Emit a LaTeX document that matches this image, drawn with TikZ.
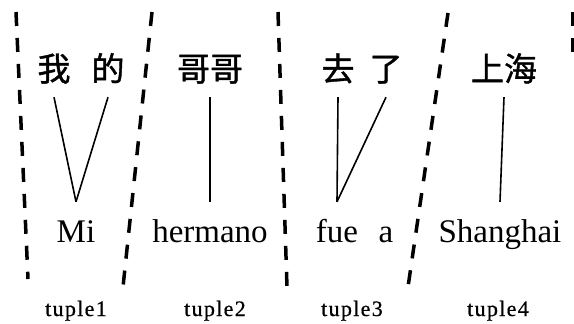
\documentclass[tikz,border=0pt]{standalone}
\usepackage{fontspec}
\setmainfont{Liberation Serif}
\newfontfamily\cjk{Noto Sans CJK SC}[FakeBold=1.2]
\usepackage{tikz}
\begin{document}
\begin{tikzpicture}[
x=1pt,y=-1pt,
zh/.style={font=\cjk\fontsize{33}{33}\selectfont,anchor=base,inner xsep=0pt,inner ysep=16pt,text depth=0pt},
es/.style={font=\fontsize{33}{33}\selectfont,anchor=base,inner xsep=0pt,inner ysep=16pt,text height=24pt},
tag/.style={font=\fontsize{22}{22}\selectfont\addfontfeatures{LetterSpace=6,FakeBold=0.6},anchor=base},
sep/.style={line width=3.5pt,dash pattern=on 14pt off 12pt},
link/.style={line width=1.6pt}
]
\useasboundingbox (0,0) rectangle (574,324);
% source words
\node[zh] (wo) at (54,81) {我};
\node[zh] (de) at (108,81) {的};
\node[zh] (gege) at (210,81) {哥哥};
\node[zh] (qu) at (338,81) {去};
\node[zh] (le) at (386,81) {了};
\node[zh] (shzh) at (504,81) {上海};
% target words
\node[es] (mi) at (76,242) {Mi};
\node[es] (hermano) at (210,242) {hermano};
\node[es] (fue) at (337,242) {fue};
\node[es] (a) at (386,242) {a};
\node[es] (shanghai) at (500,242) {Shanghai};
% tuple names
\node[tag] (t1) at (76,316) {tuple1};
\node[tag] (t2) at (215,316) {tuple2};
\node[tag] (t3) at (352,316) {tuple3};
\node[tag] (t4) at (498,316) {tuple4};
% alignment links
\draw[link] (wo.south) -- (mi.north);
\draw[link] (de.south) -- (mi.north);
\draw[link] (gege.south) -- (hermano.north);
\draw[link] (qu.south) -- (fue.north);
\draw[link] (le.south) -- (fue.north);
\draw[link] (shzh.south) -- (shanghai.north);
% tuple borders
\coordinate (s1t) at (16,12);  \coordinate (s1b) at (28,279);
\coordinate (s2t) at (152,12); \coordinate (s2b) at (123,287);
\coordinate (s3t) at (278,12); \coordinate (s3b) at (287,287);
\coordinate (s4t) at (448,13); \coordinate (s4b) at (408,287);
\coordinate (s5t) at (573,12); \coordinate (s5b) at (573,56);
\foreach \i in {1,...,5}
  \draw[sep] (s\i t) -- (s\i b);
\end{tikzpicture}
\end{document}
